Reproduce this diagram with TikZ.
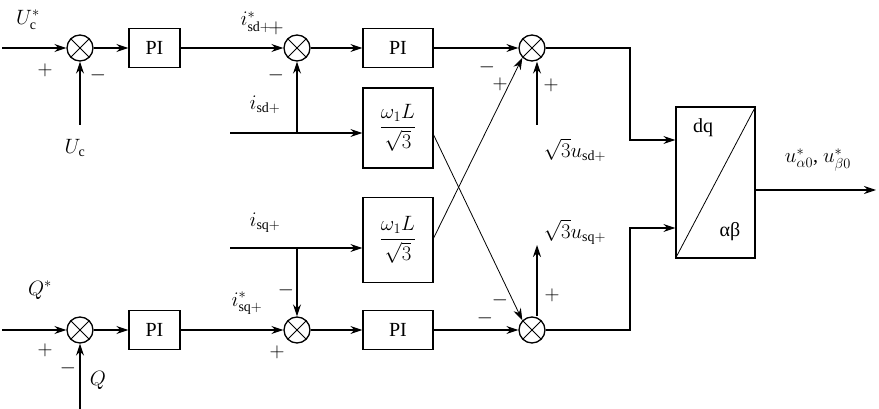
\documentclass[tikz,border=0pt]{standalone}
\usepackage{amsmath}
\usepackage{fontspec}
\setmainfont{Liberation Serif}
\usetikzlibrary{arrows.meta}
\begin{document}
\begin{tikzpicture}[x=1pt,y=-1pt,line width=1.3pt,
  sum/.style={circle,draw,minimum size=26pt,inner sep=0pt,path picture={
     \draw[line width=1pt] (path picture bounding box.north west)--(path picture bounding box.south east)
       (path picture bounding box.north east)--(path picture bounding box.south west);}},
  blk/.style={draw,rectangle,inner sep=0pt},
  lab/.style={font=\fontsize{20}{22}\selectfont,inner sep=0pt},
  sg/.style={font=\fontsize{22}{22}\selectfont,inner sep=0pt},
  ar/.style={-{Stealth[length=12pt,width=8pt]}},
  thin/.style={line width=0.8pt}]
\useasboundingbox (0,0) rectangle (879,409);
% top row
\node[sum] (s1) at (80,48) {};
\node[blk,minimum width=51pt,minimum height=39pt,lab] (p1) at (154.5,48) {PI};
\node[sum] (s2) at (297,48) {};
\node[blk,minimum width=70pt,minimum height=39pt,lab] (p2) at (398,48) {PI};
\node[sum] (s3) at (532,48) {};
\node[blk,minimum width=70pt,minimum height=80pt,lab] (w1) at (398,128) {$\dfrac{\omega_1L}{\sqrt{3}}$};
\node[blk,minimum width=70pt,minimum height=85pt,lab] (w2) at (398,240) {$\dfrac{\omega_1L}{\sqrt{3}}$};
% bottom row
\node[sum] (s4) at (80,330) {};
\node[blk,minimum width=51pt,minimum height=39pt,lab] (p3) at (154.5,330) {PI};
\node[sum] (s5) at (297,330) {};
\node[blk,minimum width=70pt,minimum height=39pt,lab] (p4) at (398,330) {PI};
\node[sum] (s6) at (532,330) {};
% dq box
\node[blk,minimum width=79pt,minimum height=151pt] (dq) at (715.5,182.5) {};
\draw[thin] (dq.south west)--(dq.north east);
\node[lab] (dqt) at (703,128) {dq};
\node[lab] (ab) at (730,232) {αβ};
% coordinates
\coordinate (in1) at (2,48);
\coordinate (in4) at (2,330);
\coordinate (uc) at (80,125);
\coordinate (qb) at (80,409);
\coordinate (isd) at (230,133);
\coordinate (isq) at (230,248);
\coordinate (bsd) at (297,133);
\coordinate (bsq) at (297,248);
\coordinate (u3) at (537,125);
\coordinate (u6) at (537,245);
\coordinate (c3) at (630,48);
\coordinate (c6) at (630,330);
\coordinate (out) at (876,190);
% connectors
\draw[ar] (in1)--(s1);
\draw[ar] (s1)--(p1);
\draw[ar] (p1)--(s2);
\draw[ar] (s2)--(p2);
\draw[ar] (p2)--(s3);
\draw[ar] (uc)--(s1);
\draw[ar] (isd)--(w1.west|-isd);
\draw[ar] (bsd)--(s2);
\draw[ar] (in4)--(s4);
\draw[ar] (s4)--(p3);
\draw[ar] (p3)--(s5);
\draw[ar] (s5)--(p4);
\draw[ar] (p4)--(s6);
\draw[ar] (qb)--(s4);
\draw[ar] (isq)--(w2.west|-isq);
\draw[ar] (bsq)--(s5);
\draw[ar] (u3)--(s3.south-|u3);
\draw[ar] (s6.north-|u6)--(u6);
\draw[thin,ar] (w1.east|-0,135)--(s6.north west);
\draw[thin,ar] (w2.east|-0,238)--(s3.south west);
\draw[ar] (s3)--(c3)--(630,140)--(dq.west|-0,140);
\draw[ar] (s6)--(c6)--(630,228)--(dq.west|-0,228);
\draw[ar] (dq.east|-out)--(out);
% labels
\node[lab] (l1) at (28,20) {$U_{\mathrm c}^{*}$};
\node[lab] (l2) at (75,148) {$U_{\mathrm c}$};
\node[lab] (l3) at (256,22) {$i_{\mathrm{sd+}}^{*}$};
\node[lab] (l4) at (265,105) {$i_{\mathrm{sd+}}$};
\node[lab] (l5) at (575,150) {$\sqrt{3}u_{\mathrm{sd+}}$};
\node[lab] (l6) at (575,232) {$\sqrt{3}u_{\mathrm{sq+}}$};
\node[lab] (l7) at (265,223) {$i_{\mathrm{sq+}}$};
\node[lab] (l8) at (40,290) {$Q^{*}$};
\node[lab] (l9) at (98,380) {$Q$};
\node[lab] (l10) at (247,303) {$i_{\mathrm{sq+}}^{*}$};
\node[lab] (l11) at (818,160) {$u_{\alpha0}^{*}$, $u_{\beta0}^{*}$};
% signs
\node[sg] at (45,70) {$+$};
\node[sg] at (98,75) {$-$};
\node[sg] at (276,28) {$+$};
\node[sg] at (276,75) {$-$};
\node[sg] at (487,67) {$-$};
\node[sg] at (500,84) {$+$};
\node[sg] at (551,85) {$+$};
\node[sg] at (45,350) {$+$};
\node[sg] at (68,368) {$-$};
\node[sg] at (286,290) {$-$};
\node[sg] at (277,352) {$+$};
\node[sg] at (500,300) {$-$};
\node[sg] at (485,318) {$-$};
\node[sg] at (552,295) {$+$};
\end{tikzpicture}
\end{document}
